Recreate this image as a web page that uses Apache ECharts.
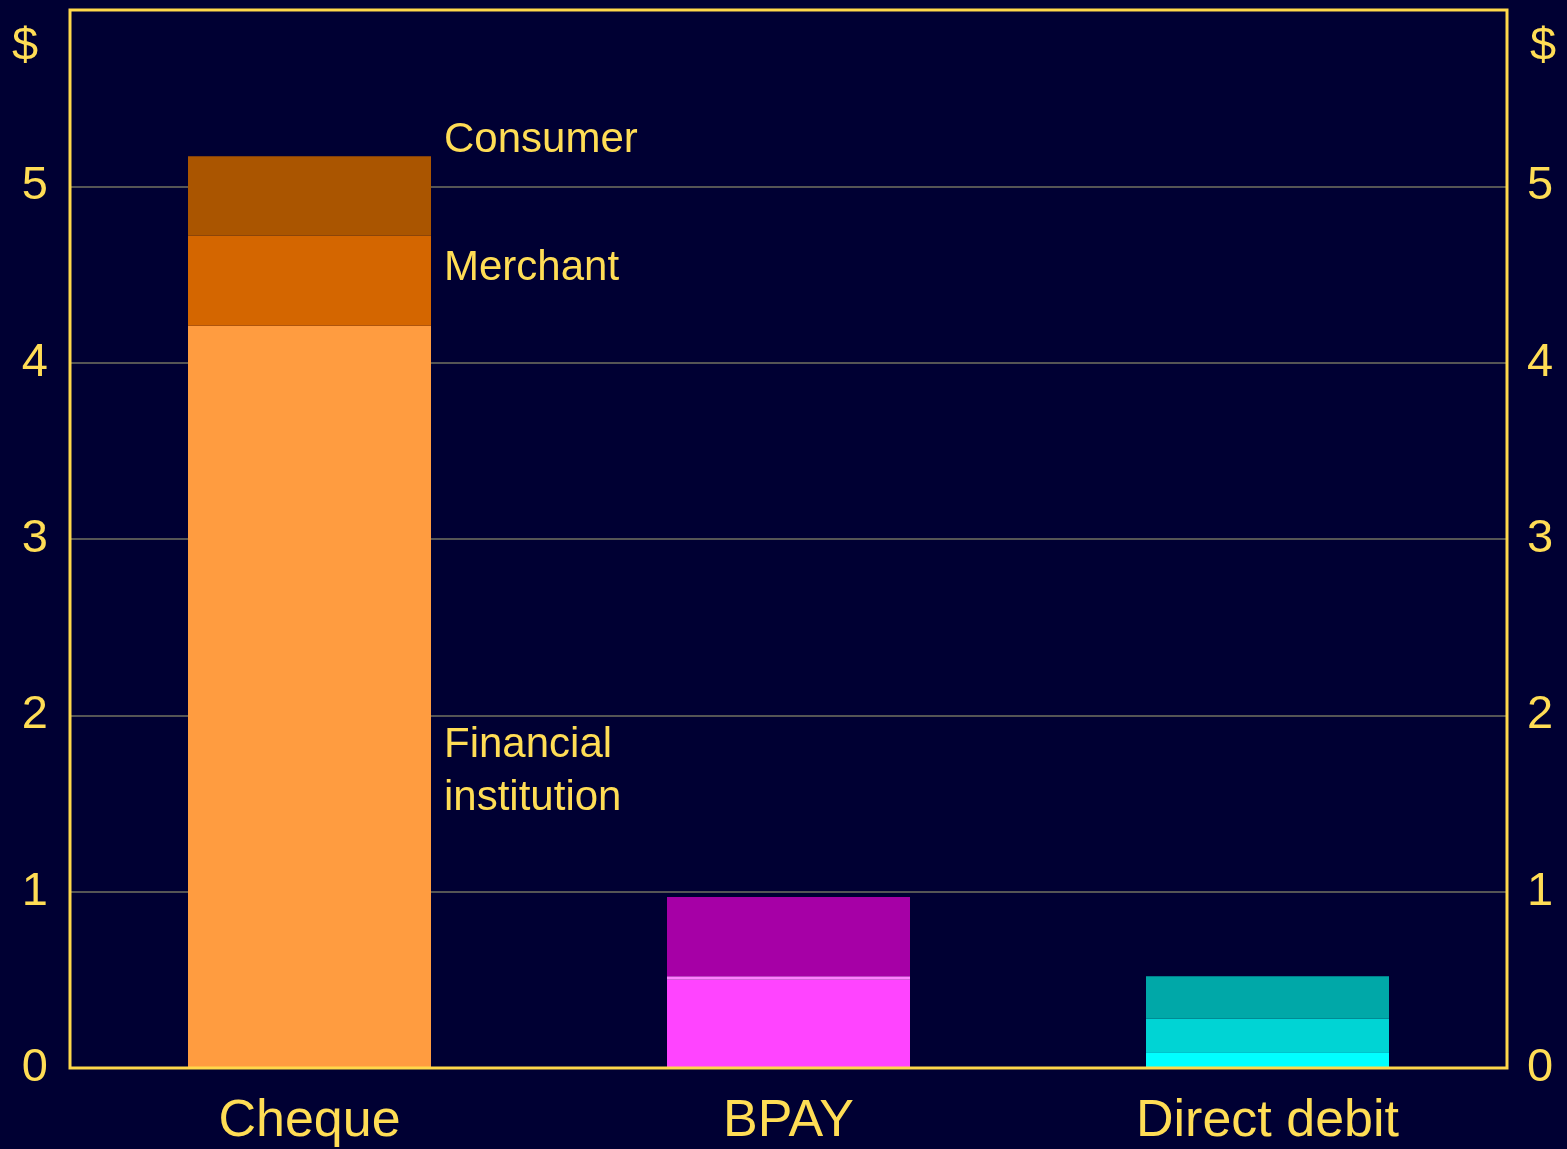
<!DOCTYPE html>
<html>
<head>
<meta charset="utf-8">
<script src="https://cdn.jsdelivr.net/npm/echarts@6/dist/echarts.min.js"></script>
<style>
    html, body { margin: 0; padding: 0; background: #000033; }
    #chart { width: 1567px; height: 1149px; }
</style>
</head>
<body>
<div id="chart"></div>
<script>
// payment methods
const categories = ['Cheque', 'BPAY', 'Direct debit']
// cost per payment, $ (stacked from the bottom)
const financialInstitution = [4.21, 0.50, 0.09]
const merchant = [0.51, 0.02, 0.19]
const consumer = [0.45, 0.45, 0.24]
const yTicks = [0, 1, 2, 3, 4, 5, 6]

const textColor = '#ffdd55'
const axisColor = '#ffd84a'
const fontFamily = 'Arial, "Liberation Sans", sans-serif'

// colour shades by category: [institution, merchant, consumer]
const shades = [
    ['#ff9c40', '#d46600', '#aa5500'],
    ['#ff44ff', '#ff80ff', '#a600a6'],
    ['#00ffff', '#00d4d4', '#00a8a8'],
]

function makeSeries(name, values, idx) {
    return {
        name: name,
        type: 'bar',
        stack: 'cost',
        barWidth: 243,
        data: values.map((v, i) => ({
            value: v,
            itemStyle: { color: shades[i][idx], borderWidth: 0 },
        })),
    }
}

const chart = echarts.init(document.getElementById('chart'))
const yAxisBase = {
    type: 'value',
    min: yTicks[0],
    max: yTicks[yTicks.length - 1],
    interval: 1,
    axisLine: { show: true, lineStyle: { color: axisColor, width: 2 } },
    axisTick: { show: false },
    axisLabel: {
        color: textColor,
        fontSize: 47,
        fontFamily: fontFamily,
        formatter: v => (v === 6 ? '' : v),
    },
}
const option = {
    backgroundColor: '#000033',
    animation: false,
    grid: {
        left: 70,
        right: 60,
        top: 10,
        bottom: 81,
        show: true,
        borderColor: axisColor,
        borderWidth: 3,
        z: 10,
    },
    xAxis: {
        type: 'category',
        data: categories,
        axisLine: { show: true, lineStyle: { color: axisColor, width: 2 } },
        axisTick: { show: false },
        axisLabel: {
            color: textColor,
            fontSize: 52,
            fontFamily: fontFamily,
            margin: 28,
        },
    },
    yAxis: [
        Object.assign({}, yAxisBase, {
            position: 'left',
            splitLine: { show: true, showMaxLine: false, lineStyle: { color: '#555555', width: 2 } },
            axisLabel: Object.assign({}, yAxisBase.axisLabel, { margin: 22 }),
        }),
        Object.assign({}, yAxisBase, {
            position: 'right',
            splitLine: { show: false },
            axisLabel: Object.assign({}, yAxisBase.axisLabel, { margin: 20 }),
        }),
    ],
    series: [
        makeSeries('Financial institution', financialInstitution, 0),
        makeSeries('Merchant', merchant, 1),
        makeSeries('Consumer', consumer, 2),
    ],
    graphic: [
        { type: 'text', left: 12, top: 24, style: { text: '$', fill: textColor, font: '47px ' + fontFamily } },
        { type: 'text', left: 1530, top: 24, style: { text: '$', fill: textColor, font: '47px ' + fontFamily } },
        { type: 'text', left: 444, top: 119, style: { text: 'Consumer', fill: textColor, font: '42px ' + fontFamily } },
        { type: 'text', left: 444, top: 247, style: { text: 'Merchant', fill: textColor, font: '42px ' + fontFamily } },
        {
            type: 'text', left: 444, top: 719,
            style: { text: 'Financial\ninstitution', fill: textColor, font: '42px ' + fontFamily, lineHeight: 53 },
        },
    ],
}
chart.setOption(option)
</script>
</body>
</html>
